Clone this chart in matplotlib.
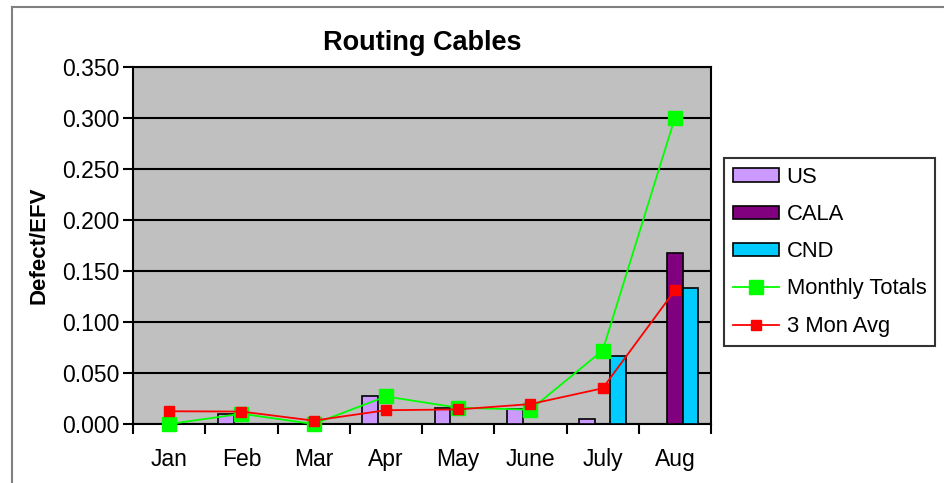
import matplotlib
matplotlib.use("Agg")
import matplotlib.pyplot as plt
from matplotlib.lines import Line2D
import numpy as np

plt.rcParams['font.family'] = ['Liberation Sans', 'DejaVu Sans']

months = ["Jan", "Feb", "Mar", "Apr", "May", "June", "July", "Aug"]
us = [0.0, 0.010, 0.0, 0.027, 0.016, 0.015, 0.005, 0.0]
cala = [0.0, 0.0, 0.0, 0.0, 0.0, 0.0, 0.0, 0.168]
cnd = [0.0, 0.0, 0.0, 0.0, 0.0, 0.0, 0.067, 0.133]
monthly_totals = [0.0, 0.010, 0.0, 0.027, 0.016, 0.014, 0.072, 0.300]
three_mon_avg = [0.0125, 0.0122, 0.0033, 0.0135, 0.0143, 0.0195, 0.035, 0.131]
yticks = [0.0, 0.05, 0.10, 0.15, 0.20, 0.25, 0.30, 0.35]

W, H = 945, 483
fig = plt.figure(figsize=(W / 100, H / 100), dpi=100)
fig.patch.set_facecolor('white')

# outer chart border (top and left edges visible)
fig.add_artist(Line2D([12 / W, 1.0], [1 - 7 / H, 1 - 7 / H], color='#808080', lw=1.5))
fig.add_artist(Line2D([12 / W, 12 / W], [0, 1 - 7 / H], color='#808080', lw=1.5))

left, right, top, bottom = 133, 711, 67, 424
ax = fig.add_axes([left / W, 1 - bottom / H, (right - left) / W, (bottom - top) / H])
ax.set_facecolor('#c0c0c0')

x = np.arange(len(months))
bw = 0.217
h_us = ax.bar(x - bw, us, bw, color='#cc99ff', edgecolor='black', linewidth=1.2, label='US', zorder=3)
h_cala = ax.bar(x, cala, bw, color='#800080', edgecolor='black', linewidth=1.2, label='CALA', zorder=3)
h_cnd = ax.bar(x + bw, cnd, bw, color='#00ccff', edgecolor='black', linewidth=1.2, label='CND', zorder=3)

h_mt, = ax.plot(x, monthly_totals, color='#00ff00', lw=1.3, marker='s', markersize=9.5,
                markerfacecolor='#00ff00', markeredgecolor='#00ff00', label='Monthly Totals',
                zorder=4, clip_on=False)
h_av, = ax.plot(x, three_mon_avg, color='#ff0000', lw=1.3, marker='s', markersize=7.5,
                markerfacecolor='#ff0000', markeredgecolor='#ff0000', label='3 Mon Avg',
                zorder=5, clip_on=False)

ax.set_xlim(-0.5, len(months) - 0.5)
ax.set_ylim(0, 0.35)
ax.set_yticks(yticks)
ax.set_yticklabels([f"{v:.3f}" for v in yticks], fontsize=16.5)
ax.set_xticks(np.arange(len(months) + 1) - 0.5, minor=False)
ax.set_xticklabels([])
ax.set_xticks(x, minor=True)
ax.set_xticklabels(months, minor=True, fontsize=16.5)
ax.tick_params(axis='x', which='minor', length=0, pad=17)
ax.tick_params(axis='x', which='major', length=7, width=1.5, direction='out')
ax.tick_params(axis='y', length=7, width=1.5, direction='out', pad=3)
ax.grid(axis='y', color='black', lw=1.5, zorder=1)
ax.set_axisbelow(True)
for s in ax.spines.values():
    s.set_linewidth(1.5)
    s.set_color('black')

ax.set_ylabel("Defect/EFV", fontsize=16, fontweight='bold', labelpad=9)
ax.set_title("Routing Cables", fontsize=19.5, fontweight='bold', pad=12)

leg = ax.legend(handles=[h_us, h_cala, h_cnd, h_mt, h_av],
                loc='upper left', bbox_to_anchor=(724 / W, 1 - 158 / H), bbox_transform=fig.transFigure,
                fontsize=15.8, frameon=True, fancybox=False, edgecolor='black',
                borderpad=0.4, labelspacing=0.74, handlelength=2.1, handleheight=0.55,
                handletextpad=0.35, borderaxespad=0)
leg.get_frame().set_linewidth(1.5)

fig.savefig("out.png", dpi=100)
